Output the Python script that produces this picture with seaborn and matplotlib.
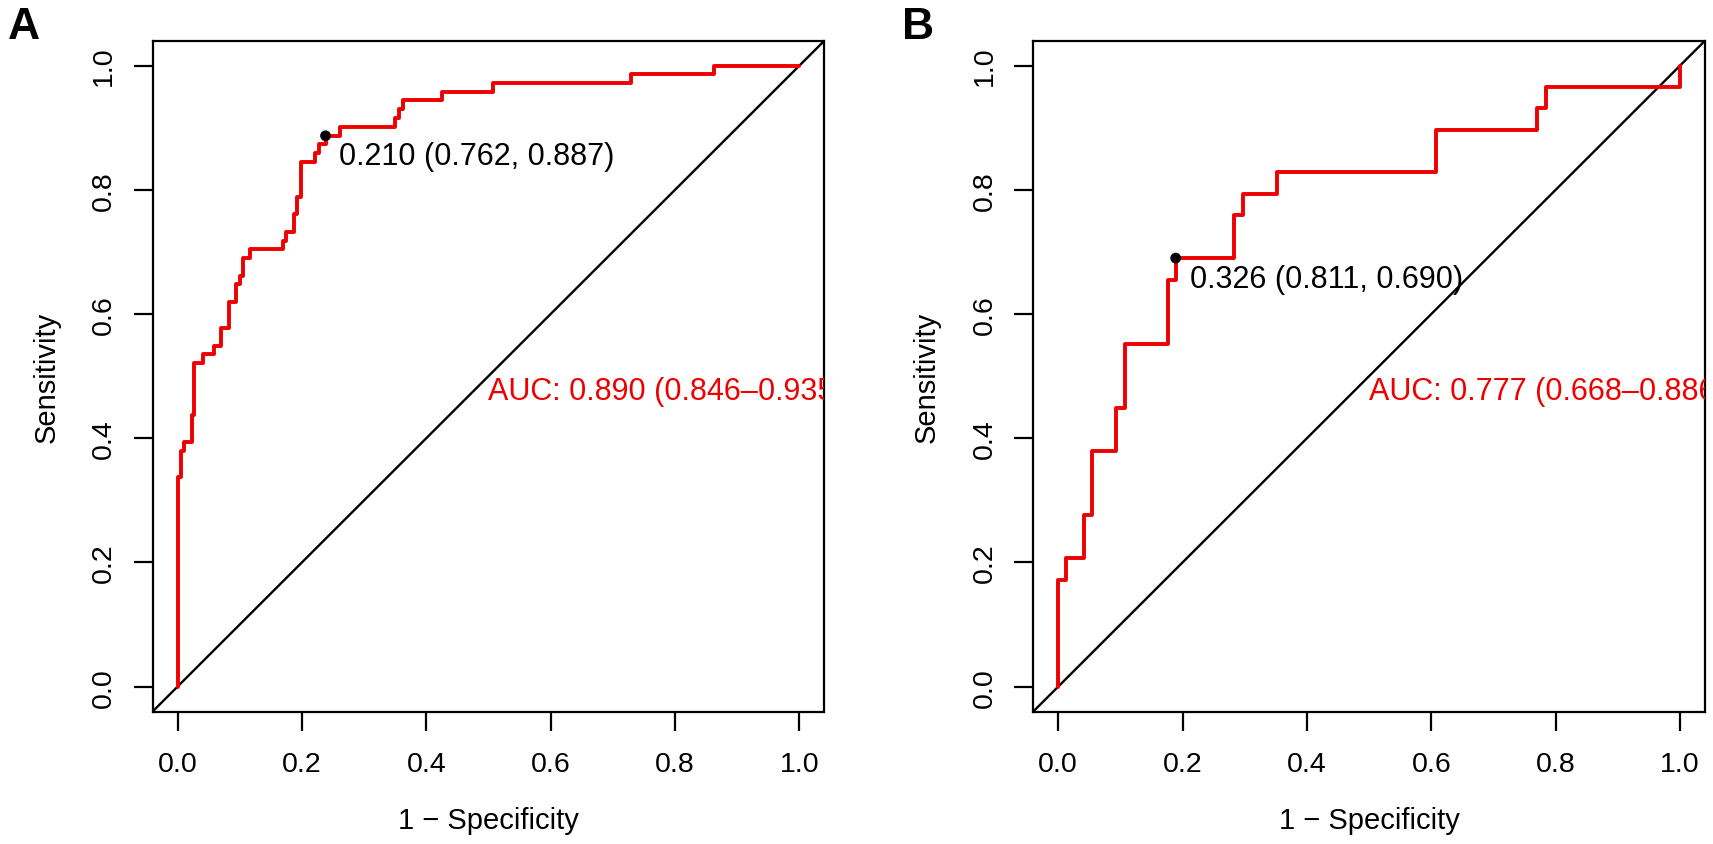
import matplotlib
matplotlib.use("Agg")
import matplotlib.pyplot as plt
import pandas as pd
import seaborn as sns

# ── data (x = 1 - specificity, y = sensitivity) ──
fpr_a = [0.000, 0.000, 0.006, 0.011, 0.024, 0.027, 0.041, 0.058, 0.070, 0.083,
         0.094, 0.100, 0.105, 0.116, 0.170, 0.175, 0.187, 0.192, 0.199, 0.221,
         0.227, 0.238, 0.262, 0.350, 0.356, 0.362, 0.426, 0.507, 0.729, 0.863, 1.000]
tpr_a = [0.000, 0.338, 0.380, 0.394, 0.437, 0.521, 0.535, 0.549, 0.577, 0.620,
         0.648, 0.662, 0.690, 0.704, 0.718, 0.732, 0.761, 0.789, 0.845, 0.859,
         0.873, 0.887, 0.901, 0.915, 0.930, 0.944, 0.958, 0.972, 0.986, 1.000, 1.000]

fpr_b = [0.000, 0.000, 0.013, 0.041, 0.054, 0.093, 0.107, 0.176, 0.189, 0.283,
         0.297, 0.352, 0.607, 0.770, 0.784, 1.000]
tpr_b = [0.000, 0.172, 0.207, 0.276, 0.379, 0.448, 0.552, 0.655, 0.690, 0.759,
         0.793, 0.828, 0.897, 0.931, 0.966, 1.000]

panel_labels = ["A", "B"]
thresholds = [0.210, 0.326]
best_spec = [0.762, 0.811]
best_sens = [0.887, 0.690]
auc_values = [0.890, 0.777]
auc_ci_low = [0.846, 0.668]
auc_ci_high = [0.935, 0.886]
tick_values = [0.0, 0.2, 0.4, 0.6, 0.8, 1.0]

sns.set_theme(style="ticks")
plt.rcParams["font.family"] = ["Liberation Sans", "DejaVu Sans"]
plt.rcParams["axes.linewidth"] = 1.6
plt.rcParams["text.color"] = "black"
plt.rcParams["axes.labelcolor"] = "black"
plt.rcParams["axes.edgecolor"] = "black"


def draw_roc(ax, fpr, tpr, thr, spec, sens, auc, lo, hi):
    df = pd.DataFrame({"fpr": fpr, "tpr": tpr})
    ax.axline((0, 0), (1, 1), color="black", lw=1.7, zorder=1)
    sns.lineplot(data=df, x="fpr", y="tpr", sort=False, estimator=None,
                 drawstyle="steps-post", color="#ee0000", lw=2.8, ax=ax, zorder=2)
    pt = pd.DataFrame({"x": [1 - spec], "y": [sens]})
    sns.scatterplot(data=pt, x="x", y="y", color="black", s=60, edgecolor="none",
                    ax=ax, zorder=3)
    ax.annotate(f"{thr:.3f} ({spec:.3f}, {sens:.3f})", (1 - spec, sens),
                xytext=(10, -4), textcoords="offset points",
                ha="left", va="top", fontsize=22, color="black")
    # AUC label is clipped at the plot frame, as in the original figure
    ax.text(0.5, 0.5, f"AUC: {auc:.3f} ({lo:.3f}\u2013{hi:.3f})",
            ha="left", va="top", fontsize=22, color="#ee0000", clip_on=True)

    ax.set_xlim(-0.04, 1.04)
    ax.set_ylim(-0.04, 1.04)
    ax.set_xticks(tick_values)
    ax.set_yticks(tick_values)
    ax.set_xticklabels([f"{v:.1f}" for v in tick_values])
    ax.set_yticklabels([f"{v:.1f}" for v in tick_values], rotation=90, va="center")
    ax.tick_params(axis="both", direction="out", length=13.5, width=1.6,
                   colors="black", labelsize=20.5)
    ax.tick_params(axis="x", pad=15)
    ax.tick_params(axis="y", pad=12)
    for side in ["top", "right", "bottom", "left"]:
        ax.spines[side].set_visible(True)
        ax.spines[side].set_color("black")
    ax.set_xlabel("1 \u2212 Specificity", fontsize=21, va="center", color="black")
    ax.set_ylabel("Sensitivity", fontsize=21, va="center", color="black")
    ax.xaxis.set_label_coords(0.5, -0.162)
    ax.yaxis.set_label_coords(-0.158, 0.5)


fig = plt.figure(figsize=(17.13, 8.45), dpi=100)
ax_a = fig.add_axes([0.0891, 0.1568, 0.3921, 0.7938])
ax_b = fig.add_axes([0.6032, 0.1568, 0.3921, 0.7938])

draw_roc(ax_a, fpr_a, tpr_a, thresholds[0], best_spec[0], best_sens[0],
         auc_values[0], auc_ci_low[0], auc_ci_high[0])
draw_roc(ax_b, fpr_b, tpr_b, thresholds[1], best_spec[1], best_sens[1],
         auc_values[1], auc_ci_low[1], auc_ci_high[1])

for xpos, lab in zip([0.0047, 0.5266], panel_labels):
    fig.text(xpos, 0.9544, lab, ha="left", va="baseline", fontsize=32,
             fontweight="bold", color="black",
             family=["Liberation Sans Narrow", "Liberation Sans"])

fig.savefig("out.png", dpi=100, facecolor="white")
